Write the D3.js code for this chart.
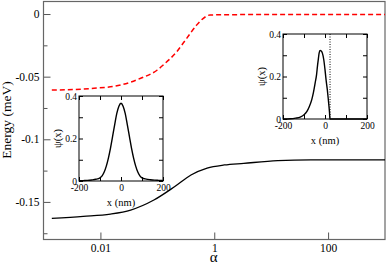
<!DOCTYPE html>
<html lang="en">
<head>
<meta charset="utf-8">
<title>Energy vs alpha</title>
<script src="https://d3js.org/d3.v7.min.js"></script>
<style>
  body { margin: 0; background: #fff; }
  text { font-family: "Liberation Serif", "DejaVu Serif", serif; fill: #000; }
</style>
</head>
<body>
<script>
// main curves: energy (meV) against alpha
var groundAlpha = [0.0014, 0.005, 0.015, 0.034, 0.087, 0.2, 0.39, 0.75, 1.5, 3.3, 13, 50, 1000];
var groundE = [-0.1631, -0.1615, -0.1597, -0.1565, -0.1485, -0.1379, -0.1285, -0.1230, -0.1205, -0.1192, -0.1171, -0.1165, -0.1165];

var excitedAlpha = [0.0014, 0.0077, 0.0227, 0.051, 0.0998, 0.127, 0.219, 0.328, 0.491, 0.643, 0.841, 1.89, 1000];
var excitedE = [-0.0607, -0.0593, -0.0567, -0.0513, -0.0447, -0.0407, -0.0301, -0.0194, -0.0088, -0.0034, -0.0008, -0.0005, -0.0003];

var xTicks = [0.01, 1, 100];
var yTicks = [0, -0.05, -0.1, -0.15];
var yMinor = [-0.025, -0.075, -0.125, -0.175];

// inset 1: symmetric wavefunction
var psi1X = [-200, -180, -160, -140, -120, -100, -90, -80, -70, -60, -50, -40, -30, -20, -10, 0, 10, 20, 30, 40, 50, 60, 70, 80, 90, 100, 120, 140, 160, 180, 200];
var psi1Y = [0.001, 0.002, 0.003, 0.005, 0.008, 0.015, 0.024, 0.042, 0.07, 0.108, 0.155, 0.21, 0.265, 0.318, 0.352, 0.366, 0.352, 0.318, 0.265, 0.21, 0.155, 0.108, 0.07, 0.042, 0.024, 0.015, 0.009, 0.006, 0.004, 0.003, 0.002];

// inset 2: wavefunction cut off at the wall
var psi2X = [-200, -165, -140, -118, -100, -86, -75, -63, -55, -47, -40, -36, -32, -28, -23.5, -18, -12.5, -6, 0, 5, 11, 15, 19, 21.5, 23.5, 40, 100, 200];
var psi2Y = [0, 0.001, 0.004, 0.009, 0.02, 0.036, 0.058, 0.091, 0.125, 0.169, 0.21, 0.248, 0.28, 0.31, 0.323, 0.32, 0.31, 0.28, 0.232, 0.185, 0.138, 0.1, 0.059, 0.03, 0, 0, 0, 0];
var wallX = 24;

var insetXTicks = [-200, 0, 200];
var insetXMinor = [-100, 100];
var insetYTicks = [0, 0.2, 0.4];
var insetYMinor = [0.1, 0.3];

var w = 386, h = 263;
// plot frame (note: "top" is reserved on window, so use other names)
var pL = 43.5, pR = 385, pT = 1.5, pB = 239.5;

var svg = d3.select("body").append("svg")
  .attr("width", w)
  .attr("height", h);

var x = d3.scaleLog().domain([0.001, 1000]).range([pL, pR]);
var y = d3.scaleLinear().domain([-0.18, 0.01]).range([pB, pT]);

// main axes, ticks pointing inward
svg.append("g")
  .attr("transform", "translate(0," + pB + ")")
  .call(d3.axisBottom(x).tickValues(xTicks).tickFormat(d => String(d)).tickSize(-7).tickPadding(4))
  .call(g => g.select(".domain").remove())
  .call(g => g.selectAll("text").attr("font-size", 11.5));

svg.append("g")
  .attr("transform", "translate(" + pL + ",0)")
  .call(d3.axisLeft(y).tickValues(yTicks).tickFormat(d => String(d)).tickSize(-7).tickPadding(4))
  .call(g => g.select(".domain").remove())
  .call(g => g.selectAll("text").attr("font-size", 11.5));

svg.append("g")
  .attr("transform", "translate(" + pL + ",0)")
  .call(d3.axisLeft(y).tickValues(yMinor).tickFormat("").tickSize(-4))
  .call(g => g.select(".domain").remove());

svg.selectAll(".tick line").attr("stroke", "#555");

svg.append("rect")
  .attr("x", pL).attr("y", pT)
  .attr("width", pR - pL).attr("height", pB - pT)
  .attr("fill", "none").attr("stroke", "#666").attr("stroke-width", 1.2);

// axis titles
svg.append("text")
  .attr("transform", "translate(11,120) rotate(-90)")
  .attr("text-anchor", "middle")
  .attr("font-size", 13.5)
  .text("Energy (meV)");

svg.append("text")
  .attr("x", (pL + pR) / 2 - 0.5).attr("y", 261.5)
  .attr("text-anchor", "middle")
  .attr("font-size", 15)
  .text("α");

var line = d3.line().curve(d3.curveMonotoneX);

svg.append("path")
  .attr("d", line(excitedAlpha.map((a, i) => [x(a), y(excitedE[i])])))
  .attr("fill", "none")
  .attr("stroke", "#ff0000")
  .attr("stroke-width", 1.5)
  .attr("stroke-dasharray", "5,3");

svg.append("path")
  .attr("d", line(groundAlpha.map((a, i) => [x(a), y(groundE[i])])))
  .attr("fill", "none")
  .attr("stroke", "#000")
  .attr("stroke-width", 1.3);

function drawInset(x0, y0, iw, ih, xs, ys, wall) {
  var g = svg.append("g");
  var sx = d3.scaleLinear().domain([-200, 200]).range([x0, x0 + iw]);
  var sy = d3.scaleLinear().domain([0, 0.4]).range([y0 + ih, y0]);

  g.append("rect")
    .attr("x", x0).attr("y", y0).attr("width", iw).attr("height", ih)
    .attr("fill", "#fff");

  var allX = insetXTicks.concat(insetXMinor);
  var allY = insetYTicks.concat(insetYMinor);

  g.append("g").attr("transform", "translate(0," + (y0 + ih) + ")")
    .call(d3.axisBottom(sx).tickValues(insetXTicks).tickFormat(d => String(d)).tickSize(0).tickPadding(3))
    .call(a => a.select(".domain").remove())
    .call(a => a.selectAll("text").attr("font-size", 9.5));
  g.append("g").attr("transform", "translate(" + x0 + ",0)")
    .call(d3.axisLeft(sy).tickValues(insetYTicks).tickFormat(d => String(d)).tickSize(0).tickPadding(2))
    .call(a => a.select(".domain").remove())
    .call(a => a.selectAll("text").attr("font-size", 9.5));

  // inward ticks on all four sides
  g.append("g").attr("transform", "translate(0," + (y0 + ih) + ")")
    .call(d3.axisBottom(sx).tickValues(allX).tickFormat("").tickSize(-4))
    .call(a => a.select(".domain").remove());
  g.append("g").attr("transform", "translate(0," + y0 + ")")
    .call(d3.axisTop(sx).tickValues(allX).tickFormat("").tickSize(-4))
    .call(a => a.select(".domain").remove());
  g.append("g").attr("transform", "translate(" + x0 + ",0)")
    .call(d3.axisLeft(sy).tickValues(allY).tickFormat("").tickSize(-4))
    .call(a => a.select(".domain").remove());
  g.append("g").attr("transform", "translate(" + (x0 + iw) + ",0)")
    .call(d3.axisRight(sy).tickValues(allY).tickFormat("").tickSize(-4))
    .call(a => a.select(".domain").remove());

  if (wall !== undefined) {
    g.append("line")
      .attr("x1", sx(wall)).attr("x2", sx(wall))
      .attr("y1", y0).attr("y2", y0 + ih)
      .attr("stroke", "#000").attr("stroke-width", 1)
      .attr("stroke-dasharray", "1,1.5");
  }

  g.append("path")
    .attr("d", d3.line().curve(d3.curveMonotoneX)(xs.map((v, i) => [sx(v), sy(ys[i])])))
    .attr("fill", "none").attr("stroke", "#000").attr("stroke-width", 1.4);

  g.append("rect")
    .attr("x", x0).attr("y", y0).attr("width", iw).attr("height", ih)
    .attr("fill", "none").attr("stroke", "#000").attr("stroke-width", 1);

  g.append("text")
    .attr("x", x0 + iw / 2).attr("y", y0 + ih + 25)
    .attr("text-anchor", "middle").attr("font-size", 10.5)
    .text("x (nm)");

  g.append("text")
    .attr("transform", "translate(" + (x0 - 18) + "," + (y0 + ih / 2) + ") rotate(-90)")
    .attr("text-anchor", "middle").attr("font-size", 10.5)
    .text("ψ(x)");
}

drawInset(79, 96, 84, 85, psi1X, psi1Y);
drawInset(283, 34, 84, 85, psi2X, psi2Y, wallX);
</script>
</body>
</html>
